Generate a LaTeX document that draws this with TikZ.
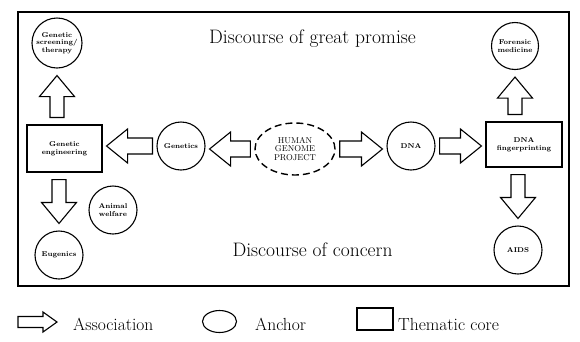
\documentclass[tikz,border=0pt]{standalone}
\usepackage{fontspec}
\usetikzlibrary{calc,shapes.geometric}
\begin{document}
\begin{tikzpicture}[x=1pt,y=-1pt,
  anchorc/.style={circle,draw,line width=1.1pt,inner sep=0pt,minimum size=#1,align=center,
    font=\fontsize{7}{7.5}\selectfont\bfseries},
  corebox/.style={rectangle,draw,line width=1.1pt,inner sep=0pt,align=center,
    font=\fontsize{7}{8}\selectfont\bfseries},
  hgpnode/.style={ellipse,draw,dashed,dash pattern=on 7pt off 4pt,line width=1.4pt,inner sep=0pt,
    minimum width=80pt,minimum height=52pt,align=center,font=\fontsize{8.5}{8.5}\selectfont},
  bigtext/.style={font=\fontsize{19.5}{20}\selectfont,inner sep=0pt},
  legtext/.style={font=\fontsize{17.5}{18}\selectfont,inner sep=0pt,anchor=base west},
  barrow/.style n args={4}{line width=1.1pt,line join=miter,to path={
    ($(\tikztostart)!#1!(\tikztotarget)$) coordinate (ba1)
    ($(\tikztotarget)!#1!(\tikztostart)$) coordinate (ba2)
    ($(ba2)!#4!(ba1)$) coordinate (bah)
    ($(ba1)!#2!90:(ba2)$) -- ($(bah)!#2!-90:(ba1)$) -- ($(bah)!#3!-90:(ba1)$) -- (ba2)
    -- ($(bah)!#3!90:(ba1)$) -- ($(bah)!#2!90:(ba1)$) -- ($(ba1)!#2!-90:(ba2)$) -- cycle}},
  harrow/.style={barrow={4pt}{8pt}{17pt}{21pt}},
  varrow/.style={barrow={7pt}{7pt}{17.5pt}{21pt}},
  legarrow/.style={barrow={0pt}{5.5pt}{10pt}{14pt}}
]
\useasboundingbox (0,0) rectangle (580,341);
% frame
\draw[line width=1.2pt] (18,12) rectangle (569,286);
% headings
\node[bigtext,anchor=base] (promise) at (312.5,43) {Discourse of great promise};
\node[bigtext,anchor=base] (concern) at (312.5,256) {Discourse of concern};
% nodes
\node[anchorc=50pt] (gs) at (57,43) {Genetic\\screening/\\therapy};
\node[corebox,minimum width=75pt,minimum height=47pt] (ge) at (64.5,148.5) {Genetic\\engineering};
\node[anchorc=48pt] (gen) at (181,146) {Genetics};
\node[hgpnode] (hgp) at (295,149) {HUMAN\\GENOME\\PROJECT};
\node[anchorc=48pt] (dna) at (411,146) {DNA};
\node[corebox,minimum width=76pt,minimum height=45pt] (fp) at (524,144.5) {DNA\\fingerprinting};
\node[anchorc=47pt] (fm) at (515,46) {Forensic\\medicine};
\node[anchorc=48pt] (aids) at (518,250) {AIDS};
\node[anchorc=48pt] (eug) at (59,255) {Eugenics};
\node[anchorc=48pt] (aw) at (113,210) {Animal\\welfare};
% associations
\draw[varrow] (gs.south |- ge.north) to (gs.south);
\draw[varrow] (eug.north |- ge.south) to (eug.north);
\draw[harrow] (gen.west) to (gen.west -| ge.east);
\draw[harrow] (hgp.west) to (hgp.west -| gen.east);
\draw[harrow] (hgp.east) to (hgp.east -| dna.west);
\draw[harrow] (dna.east) to (dna.east -| fp.west);
\draw[varrow] (fm.south |- fp.north) to (fm.south);
\draw[varrow] (aids.north |- fp.south) to (aids.north);
% legend
\coordinate (la1) at (18,322);
\coordinate (la2) at (57,322);
\draw[legarrow] (la1) to (la2);
\node[legtext] (lassoc) at (73,330) {Association};
\node[ellipse,draw,line width=1.1pt,minimum width=34pt,minimum height=22pt,inner sep=0pt] (lanchor) at (219.5,321.5) {};
\node[legtext] (lanch) at (255,330) {Anchor};
\node[rectangle,draw,line width=1.1pt,minimum width=36pt,minimum height=22pt,inner sep=0pt] (lcore) at (375,319) {};
\node[legtext] (lcoret) at (398,330) {Thematic core};
\end{tikzpicture}
\end{document}
